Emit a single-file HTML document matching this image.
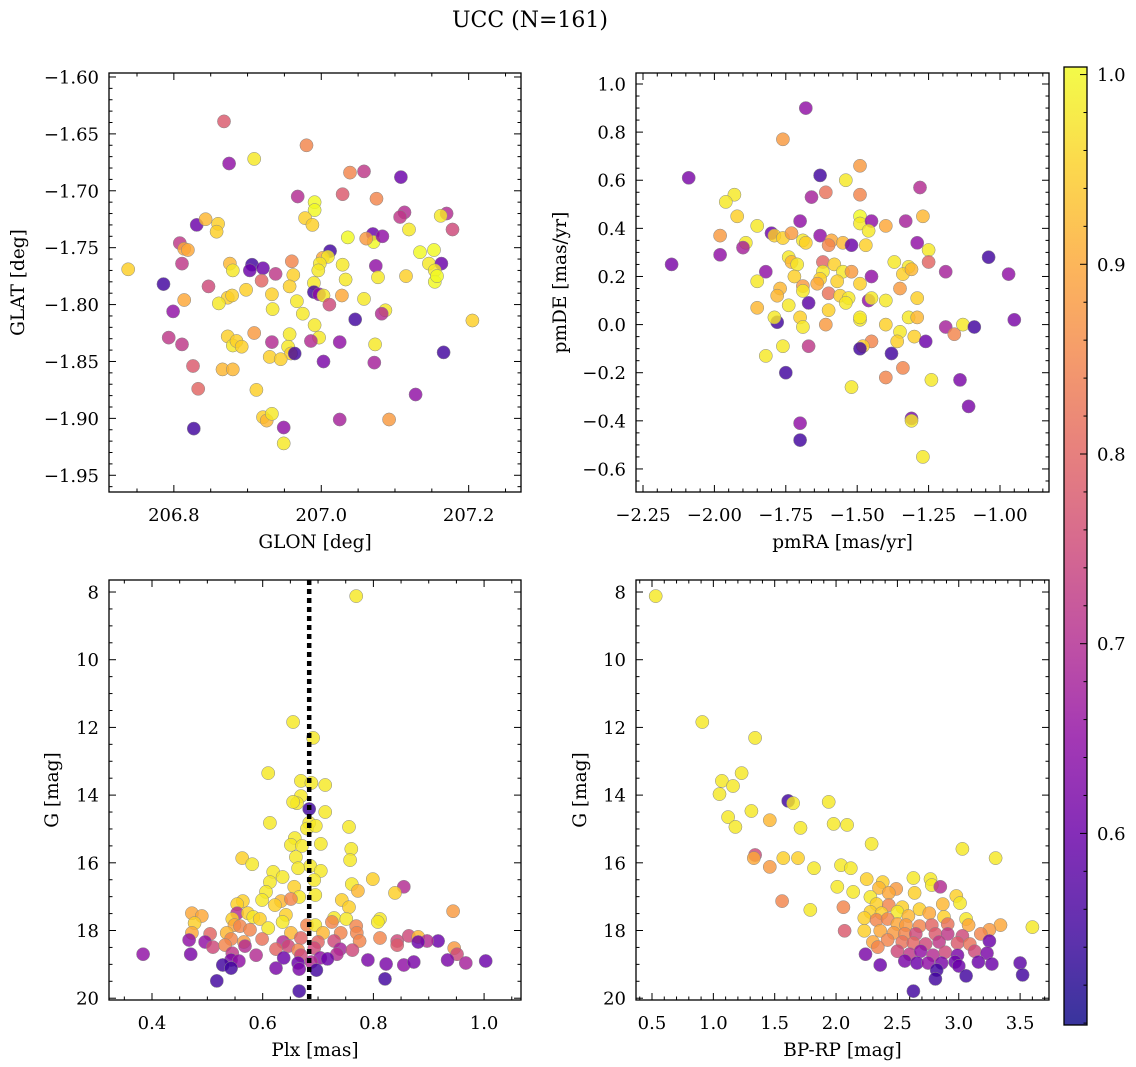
<!DOCTYPE html>
<html><head><meta charset="utf-8">
<style>
html,body{margin:0;padding:0;background:#fff;}
svg{display:block;font-family:"DejaVu Serif","Liberation Serif",serif;}
</style></head>
<body>
<svg id="fig" width="1136" height="1067" viewBox="0 0 1136 1067" xmlns="http://www.w3.org/2000/svg">
<text x="530" y="27" text-anchor="middle" font-size="22">UCC (N=161)</text>
</svg>
<script>
// ---- Panel 1: GLON vs GLAT ----
const glon = [206.868,206.980,206.875,206.909,207.039,207.058,207.108,206.968,206.991,206.991,207.029,207.075,207.113,207.107,207.170,207.162,207.178,206.978,206.988,206.831,206.843,206.860,206.858,207.070,207.119,207.071,207.083,207.036,207.061,206.808,206.811,206.814,206.819,207.012,207.002,207.009,206.906,206.903,206.921,206.876,206.880,206.998,206.996,206.960,207.029,207.074,207.134,207.153,207.146,207.163,207.115,207.154,207.154,207.157,206.738,206.786,206.938,206.962,206.919,207.033,207.077,206.990,206.957,206.814,206.847,206.873,206.879,206.898,206.861,206.933,206.934,206.990,206.997,207.003,207.011,207.028,207.058,207.087,207.082,206.967,206.975,206.799,207.046,206.991,206.873,206.909,206.957,206.997,206.793,206.811,206.880,206.885,206.892,206.933,206.955,206.959,206.986,207.025,207.073,206.930,206.945,206.964,207.003,207.072,207.166,206.826,206.866,206.880,206.833,206.912,207.128,206.921,206.926,206.933,207.025,207.092,206.949,206.949,206.827,207.205];
const glat = [-1.639,-1.660,-1.676,-1.672,-1.684,-1.683,-1.688,-1.705,-1.710,-1.717,-1.703,-1.707,-1.719,-1.723,-1.720,-1.722,-1.734,-1.724,-1.730,-1.730,-1.725,-1.729,-1.736,-1.738,-1.734,-1.745,-1.740,-1.741,-1.742,-1.746,-1.764,-1.751,-1.752,-1.753,-1.759,-1.758,-1.765,-1.770,-1.768,-1.764,-1.770,-1.764,-1.770,-1.762,-1.765,-1.766,-1.754,-1.752,-1.764,-1.764,-1.775,-1.770,-1.780,-1.775,-1.769,-1.782,-1.773,-1.774,-1.779,-1.778,-1.776,-1.781,-1.784,-1.796,-1.784,-1.794,-1.792,-1.787,-1.799,-1.791,-1.804,-1.789,-1.791,-1.792,-1.800,-1.792,-1.795,-1.805,-1.808,-1.797,-1.808,-1.806,-1.813,-1.818,-1.828,-1.825,-1.826,-1.829,-1.829,-1.835,-1.836,-1.832,-1.837,-1.833,-1.837,-1.843,-1.832,-1.833,-1.835,-1.846,-1.848,-1.843,-1.850,-1.851,-1.842,-1.854,-1.857,-1.857,-1.874,-1.875,-1.879,-1.899,-1.902,-1.896,-1.901,-1.901,-1.908,-1.922,-1.909,-1.814];
const prob1 = [0.78,0.85,0.65,0.98,0.85,0.72,0.6,0.7,1.0,1.0,0.78,0.85,0.7,0.72,0.7,0.98,0.75,0.95,0.95,0.6,0.92,0.95,0.95,0.6,0.98,1.0,0.65,1.0,0.88,0.72,0.72,0.9,0.9,0.55,0.9,0.98,0.55,0.6,0.6,0.92,0.98,0.98,0.98,0.85,0.98,0.65,1.0,1.0,0.98,0.6,0.95,0.98,1.0,1.0,0.95,0.55,0.72,0.95,0.8,0.98,0.98,0.98,0.95,0.9,0.75,0.95,0.95,0.95,0.98,0.95,0.98,0.55,0.65,0.98,0.75,0.9,0.98,0.98,0.7,0.98,0.98,0.65,0.55,0.98,0.95,0.88,0.98,0.98,0.72,0.72,0.98,0.95,0.95,0.7,0.98,0.95,0.7,0.65,0.98,0.95,0.95,0.55,0.62,0.68,0.55,0.78,0.92,0.92,0.8,0.95,0.65,0.95,0.92,0.98,0.68,0.88,0.65,0.98,0.55,0.95];

// ---- Panel 2: pmRA vs pmDE ----
const pmra = [-1.68,-1.76,-2.09,-1.63,-1.54,-1.49,-1.61,-1.66,-1.49,-1.28,-1.93,-1.96,-1.92,-1.49,-1.27,-1.70,-1.49,-1.45,-1.33,-1.40,-1.85,-1.80,-1.79,-1.76,-1.73,-1.63,-1.59,-1.55,-1.46,-1.98,-1.89,-1.90,-1.52,-1.69,-1.68,-1.60,-1.47,-1.29,-1.25,-1.32,-1.34,-1.31,-1.25,-1.37,-1.04,-1.19,-1.98,-2.15,-1.74,-1.73,-1.71,-1.62,-1.58,-1.62,-1.55,-1.52,-1.63,-1.57,-1.45,-1.49,-1.82,-1.72,-1.69,-1.77,-1.69,-1.64,-1.60,-1.56,-1.53,-1.85,-1.35,-0.97,-0.95,-1.46,-1.45,-1.29,-1.40,-1.78,-1.85,-1.74,-1.67,-1.60,-1.54,-1.70,-1.49,-1.61,-1.69,-1.78,-1.79,-1.49,-1.40,-1.32,-1.29,-1.13,-1.09,-1.19,-1.35,-1.16,-1.36,-1.30,-1.26,-1.45,-1.67,-1.48,-1.49,-1.76,-1.38,-1.82,-1.52,-1.75,-1.34,-1.40,-1.24,-1.14,-1.11,-1.31,-1.31,-1.70,-1.70,-1.27];
const pmde = [0.90,0.77,0.61,0.62,0.60,0.66,0.55,0.53,0.54,0.57,0.54,0.51,0.45,0.45,0.45,0.43,0.42,0.43,0.43,0.41,0.41,0.38,0.37,0.36,0.38,0.37,0.35,0.34,0.39,0.37,0.34,0.32,0.33,0.35,0.34,0.33,0.33,0.34,0.31,0.24,0.21,0.23,0.26,0.26,0.28,0.22,0.29,0.25,0.28,0.26,0.25,0.26,0.25,0.22,0.22,0.22,0.19,0.18,0.20,0.17,0.22,0.20,0.16,0.15,0.14,0.17,0.13,0.12,0.11,0.18,0.15,0.21,0.02,0.10,0.11,0.11,0.10,0.12,0.07,0.08,0.09,0.06,0.09,0.03,0.02,0.00,-0.01,0.01,0.03,0.03,0.00,0.03,0.03,0.00,-0.01,-0.01,-0.03,-0.04,-0.07,-0.05,-0.07,-0.07,-0.09,-0.09,-0.10,-0.09,-0.12,-0.13,-0.26,-0.20,-0.18,-0.22,-0.23,-0.23,-0.34,-0.39,-0.40,-0.41,-0.48,-0.55];
const prob2 = [0.65,0.88,0.62,0.55,0.98,0.88,0.82,0.68,0.85,0.7,0.98,0.98,0.95,1.0,0.92,0.65,0.98,0.65,0.68,0.9,0.98,0.6,0.95,0.95,0.88,0.65,0.9,0.92,0.98,0.88,0.98,0.68,0.6,0.98,0.95,0.85,0.95,0.65,0.98,0.98,0.95,0.92,0.8,0.98,0.55,0.68,0.65,0.62,0.98,0.92,0.98,0.8,0.95,0.98,0.98,0.88,0.95,0.95,0.65,0.95,0.65,0.95,0.88,0.92,0.98,0.9,0.82,0.95,0.98,0.98,0.88,0.65,0.62,0.65,0.98,0.95,0.98,0.92,0.92,0.98,0.58,0.95,0.98,0.95,0.98,0.88,0.98,0.55,0.98,0.98,0.95,0.98,0.92,0.98,0.55,0.68,0.98,0.85,0.95,0.95,0.6,0.85,0.72,0.95,0.55,0.98,0.55,0.98,0.98,0.55,0.85,0.85,0.98,0.62,0.62,0.62,0.98,0.65,0.55,0.98];

// ---- Panel 3: Plx vs G ----
const plx = [0.769,0.655,0.691,0.610,0.669,0.688,0.669,0.713,0.662,0.655,0.684,0.713,0.684,0.680,0.696,0.613,0.756,0.658,0.651,0.671,0.705,0.760,0.660,0.758,0.563,0.581,0.686,0.664,0.619,0.636,0.705,0.693,0.613,0.761,0.799,0.657,0.606,0.772,0.855,0.839,0.666,0.695,0.599,0.633,0.564,0.554,0.622,0.651,0.743,0.756,0.554,0.472,0.490,0.573,0.944,0.583,0.595,0.545,0.642,0.729,0.751,0.812,0.477,0.549,0.559,0.636,0.680,0.695,0.725,0.769,0.808,0.472,0.505,0.535,0.577,0.610,0.651,0.669,0.709,0.741,0.770,0.812,0.864,0.881,0.543,0.566,0.599,0.637,0.646,0.700,0.729,0.775,0.843,0.917,0.897,0.467,0.496,0.510,0.532,0.568,0.624,0.664,0.693,0.740,0.762,0.843,0.881,0.384,0.470,0.545,0.588,0.638,0.669,0.704,0.734,0.946,0.951,0.543,0.557,0.664,0.688,0.717,0.790,0.823,0.934,1.003,0.967,0.666,0.697,0.624,0.528,0.543,0.855,0.873,0.517,0.821,0.666];
const gmag3 = [8.12,11.84,12.31,13.35,13.58,13.64,14.03,13.70,14.24,14.20,14.41,14.50,14.82,14.99,14.91,14.82,14.94,15.27,15.47,15.50,15.44,15.59,15.83,15.92,15.86,16.04,16.09,16.16,16.27,16.42,16.24,16.51,16.57,16.63,16.48,16.71,16.86,16.83,16.71,16.89,17.01,16.95,17.10,17.13,17.13,17.22,17.25,17.07,17.10,17.31,17.49,17.49,17.57,17.49,17.43,17.60,17.66,17.66,17.54,17.63,17.66,17.66,17.78,17.84,17.87,17.75,17.84,17.84,17.75,17.87,17.75,18.07,18.10,18.07,17.98,17.93,18.07,18.22,18.07,18.07,18.07,18.22,18.16,18.19,18.25,18.34,18.25,18.34,18.46,18.34,18.31,18.31,18.31,18.31,18.31,18.28,18.34,18.49,18.43,18.46,18.55,18.58,18.52,18.55,18.58,18.43,18.34,18.70,18.70,18.67,18.73,18.81,18.73,18.81,18.70,18.52,18.70,18.87,18.90,18.96,18.93,18.84,18.87,18.99,18.87,18.90,18.96,19.14,19.17,19.11,19.02,19.11,19.02,18.93,19.49,19.43,19.79];
const prob3 = [0.98,0.98,0.98,0.98,0.98,0.98,0.98,0.98,0.98,0.98,0.55,0.98,0.98,0.98,0.98,0.98,0.98,0.98,0.98,0.98,0.98,0.98,0.98,0.98,0.95,0.98,0.98,0.98,0.98,0.98,0.98,0.98,0.98,0.98,0.95,0.95,0.98,0.92,0.7,0.95,0.98,0.98,0.98,0.92,0.95,0.95,0.95,0.85,0.95,0.95,0.7,0.9,0.9,0.95,0.88,0.98,0.95,0.95,0.95,0.98,0.98,0.98,0.95,0.9,0.85,0.98,0.85,0.98,0.85,0.85,0.98,0.9,0.8,0.92,0.85,0.98,0.92,0.8,0.92,0.85,0.85,0.85,0.75,0.92,0.85,0.88,0.82,0.7,0.75,0.8,0.75,0.85,0.75,0.6,0.7,0.65,0.65,0.75,0.85,0.7,0.8,0.85,0.75,0.68,0.75,0.78,0.6,0.65,0.62,0.72,0.7,0.6,0.75,0.65,0.7,0.88,0.75,0.62,0.65,0.6,0.7,0.6,0.62,0.62,0.62,0.6,0.68,0.62,0.55,0.62,0.55,0.55,0.65,0.62,0.55,0.55,0.55];
const plxRef = [0.684];

// ---- Panel 4: BP-RP vs G ----
const bprp = [0.53,0.91,1.34,1.23,1.07,1.16,1.61,1.94,1.65,1.05,1.12,1.18,1.46,1.31,1.34,1.33,1.71,1.98,2.09,2.29,3.03,3.30,1.69,1.57,2.04,1.46,1.82,2.12,2.25,2.63,2.77,2.38,2.78,2.01,2.35,2.49,2.85,2.14,2.43,2.64,2.98,3.01,2.28,1.79,2.06,1.56,2.33,2.43,2.54,2.87,2.68,2.28,2.37,2.50,2.59,2.76,2.88,2.23,2.33,2.42,3.06,3.34,3.60,2.50,2.57,2.68,2.78,2.91,3.08,3.25,2.07,2.23,2.36,2.47,2.56,2.65,2.81,2.91,3.03,3.18,2.30,2.42,2.54,2.63,2.73,2.84,2.99,3.09,3.25,2.34,2.50,2.60,2.69,2.79,2.89,2.99,3.13,2.24,3.23,3.50,2.56,2.66,2.75,2.86,2.97,3.16,3.27,2.36,2.82,3.00,3.52,2.81,3.06,2.63];
const gmag4 = [8.12,11.84,12.31,13.35,13.58,13.73,14.17,14.20,14.24,13.97,14.65,14.94,14.74,14.47,15.77,15.86,14.97,14.85,14.88,15.44,15.59,15.86,15.86,15.86,16.07,16.12,16.16,16.16,16.48,16.45,16.48,16.57,16.66,16.71,16.74,16.77,16.71,16.86,16.89,16.89,16.98,17.19,17.01,17.39,17.31,17.13,17.22,17.25,17.31,17.22,17.37,17.45,17.49,17.45,17.57,17.49,17.60,17.63,17.69,17.66,17.66,17.84,17.90,17.81,17.84,17.87,17.84,17.81,17.84,17.98,18.01,18.01,18.01,18.07,18.10,18.10,18.10,18.10,18.16,18.10,18.34,18.28,18.34,18.37,18.40,18.34,18.37,18.40,18.31,18.49,18.61,18.70,18.61,18.73,18.64,18.73,18.61,18.70,18.67,18.96,18.90,18.96,18.96,18.96,18.93,18.93,18.99,19.02,19.17,19.05,19.31,19.43,19.34,19.79];
const prob4 = [0.98,0.98,0.98,0.98,0.98,0.98,0.55,0.98,0.98,0.98,0.98,0.98,0.92,0.98,0.75,0.9,0.98,0.98,0.98,0.98,0.98,0.98,0.95,0.95,0.98,0.88,0.98,0.98,0.95,0.98,0.98,0.95,0.98,0.98,0.92,0.88,0.7,0.98,0.9,0.95,0.95,0.98,0.98,0.98,0.85,0.85,0.95,0.85,0.95,0.92,0.95,0.95,0.95,0.98,0.92,0.9,0.95,0.95,0.85,0.85,0.98,0.9,0.98,0.9,0.88,0.85,0.8,0.82,0.9,0.88,0.78,0.95,0.9,0.88,0.85,0.75,0.78,0.72,0.75,0.85,0.9,0.85,0.82,0.8,0.75,0.72,0.78,0.82,0.6,0.85,0.75,0.72,0.65,0.7,0.75,0.62,0.75,0.62,0.62,0.58,0.62,0.6,0.65,0.62,0.6,0.6,0.6,0.6,0.55,0.6,0.55,0.55,0.55,0.55];

// ---- tick label arrays ----
const p1xTicks = [206.8, 207.0, 207.2];
const p1yTicks = [-1.60,-1.65,-1.70,-1.75,-1.80,-1.85,-1.90,-1.95];
const p2xTicks = [-2.25,-2.00,-1.75,-1.50,-1.25,-1.00];
const p2yTicks = [1.0,0.8,0.6,0.4,0.2,0.0,-0.2,-0.4,-0.6];
const p3xTicks = [0.4,0.6,0.8,1.0];
const gTicks = [8,10,12,14,16,18,20];
const p4xTicks = [0.5,1.0,1.5,2.0,2.5,3.0,3.5];
const cbTicks = [0.6,0.7,0.8,0.9,1.0];

const NS = "http://www.w3.org/2000/svg";
const svg = document.getElementById('fig');
function mk(tag, attrs, parent){ const e=document.createElementNS(NS,tag); for(const k in attrs) e.setAttribute(k,attrs[k]); (parent||svg).appendChild(e); return e; }

const plasma = [[13,8,135],[65,4,157],[106,0,168],[143,13,164],[177,42,144],[204,71,120],[225,100,98],[242,132,75],[252,166,54],[252,206,37],[240,249,33]];
const VMIN=0.5, VMAX=1.0;
function cmap(v){ let t=(v-VMIN)/(VMAX-VMIN); t=Math.max(0,Math.min(1,t)); const f=t*10; const i=Math.min(9,Math.floor(f)); const u=f-i; const a=plasma[i], b=plasma[i+1]; return `rgb(${Math.round(a[0]+(b[0]-a[0])*u)},${Math.round(a[1]+(b[1]-a[1])*u)},${Math.round(a[2]+(b[2]-a[2])*u)})`; }

function fmt(v,d){ return (v<0?'\u2212':'')+Math.abs(v).toFixed(d); }
const TFS = 18, LFS = 18.5;

function panel(cfg){
  const {name,L,T,R,B,xmin,xmax,ymin,ymax,inv,xt,yt,xminor,yminor,xd,yd,xlab,ylab,xs,ys,cs,ylabX} = cfg;
  const sx = v => L + (v-xmin)/(xmax-xmin)*(R-L);
  const sy = inv ? (v => T + (v-ymin)/(ymax-ymin)*(B-T)) : (v => B - (v-ymin)/(ymax-ymin)*(B-T));
  const g = mk('g',{});
  
  
  const clipId = name+'-clip';
  const cp = mk('clipPath',{id:clipId},g); mk('rect',{x:L,y:T,width:R-L,height:B-T},cp);
  const pts = mk('g',{'clip-path':`url(#${clipId})`},g);
  
  
  for(let i=0;i<xs.length;i++){
    const c = mk('circle',{cx:sx(xs[i]).toFixed(1),cy:sy(ys[i]).toFixed(1),r:6.6,fill:cmap(cs[i]),'fill-opacity':0.82,stroke:'#888','stroke-width':0.5},pts);
    
    
  }
  if(cfg.vline){ for(const v of cfg.vline){ const l=mk('line',{x1:sx(v),x2:sx(v),y1:T,y2:B,stroke:'#000','stroke-width':4.5,'stroke-dasharray':'5 4'},g);
    
     } }
  mk('rect',{x:L,y:T,width:R-L,height:B-T,fill:'none',stroke:'#000','stroke-width':1.3},g);
  const xr=[Math.min(xmin,xmax),Math.max(xmin,xmax)];
  for(let v=Math.ceil(xr[0]/xminor-1e-6)*xminor; v<=xr[1]+1e-9; v+=xminor){
    const x=sx(v); const major = xt.some(t=>Math.abs(t-v)<xminor/10);
    const len = major?7:3.5;
    mk('line',{x1:x,x2:x,y1:B,y2:B-len,stroke:'#000','stroke-width':1},g);
    mk('line',{x1:x,x2:x,y1:T,y2:T+len,stroke:'#000','stroke-width':1},g);
  }
  for(const v of xt){ const t=mk('text',{x:sx(v),y:B+29,'text-anchor':'middle','font-size':TFS},g); t.textContent=fmt(v,xd);
    
     }
  const yr=[Math.min(ymin,ymax),Math.max(ymin,ymax)];
  for(let v=Math.ceil(yr[0]/yminor-1e-6)*yminor; v<=yr[1]+1e-9; v+=yminor){
    const y=sy(v); const major = yt.some(t=>Math.abs(t-v)<yminor/10);
    const len = major?7:3.5;
    mk('line',{x1:L,x2:L+len,y1:y,y2:y,stroke:'#000','stroke-width':1},g);
    mk('line',{x1:R,x2:R-len,y1:y,y2:y,stroke:'#000','stroke-width':1},g);
  }
  for(const v of yt){ const t=mk('text',{x:L-10,y:sy(v)+6.5,'text-anchor':'end','font-size':TFS},g); t.textContent=fmt(v,yd);
    
     }
  const xl=mk('text',{x:(L+R)/2,y:B+56,'text-anchor':'middle','font-size':LFS},g); xl.textContent=xlab;
  
  
  const yl=mk('text',{x:ylabX,y:(T+B)/2,'text-anchor':'middle','font-size':LFS,transform:`rotate(-90 ${ylabX} ${(T+B)/2})`},g); yl.textContent=ylab;
  
  
}

panel({name:'glon-glat-panel',L:109,T:73,R:521,B:492,xmin:206.712,xmax:207.271,ymin:-1.9647,ymax:-1.5965,inv:false,xt:p1xTicks,yt:p1yTicks,xminor:0.05,yminor:0.01,xd:1,yd:2,xlab:'GLON [deg]',ylab:'GLAT [deg]',xs:glon,ys:glat,cs:prob1,ylabX:24});
panel({name:'pm-panel',L:636,T:73,R:1049,B:492,xmin:-2.2745,xmax:-0.8284,ymin:-0.6958,ymax:1.0457,inv:false,xt:p2xTicks,yt:p2yTicks,xminor:0.05,yminor:0.05,xd:2,yd:1,xlab:'pmRA [mas/yr]',ylab:'pmDE [mas/yr]',xs:pmra,ys:pmde,cs:prob2,ylabX:566});
panel({name:'plx-g-panel',L:109,T:580,R:521,B:1000,xmin:0.3223,xmax:1.0667,ymin:7.645,ymax:20.053,inv:true,xt:p3xTicks,yt:gTicks,xminor:0.05,yminor:0.5,xd:1,yd:0,xlab:'Plx [mas]',ylab:'G [mag]',xs:plx,ys:gmag3,cs:prob3,ylabX:58,vline:plxRef});
panel({name:'cmd-panel',L:636,T:580,R:1049,B:1000,xmin:0.3696,xmax:3.7355,ymin:7.645,ymax:20.053,inv:true,xt:p4xTicks,yt:gTicks,xminor:0.1,yminor:0.5,xd:1,yd:0,xlab:'BP-RP [mag]',ylab:'G [mag]',xs:bprp,ys:gmag4,cs:prob4,ylabX:586});

// colorbar
(function(){
  const L=1064,R=1087,T=67,B=1025, cmin=0.499, cmax=1.004;
  const g=mk('g',{});
  
  
  const defs=mk('defs',{},g);
  const lg=mk('linearGradient',{id:'cbgrad',x1:0,y1:1,x2:0,y2:0},defs);
  for(let i=0;i<=20;i++){ const v=cmin+(cmax-cmin)*i/20; mk('stop',{offset:(i/20),'stop-color':cmap(v),'stop-opacity':0.82},lg); }
  mk('rect',{x:L,y:T,width:R-L,height:B-T,fill:'url(#cbgrad)',stroke:'#000','stroke-width':1.3},g);
  const sy=v=>B-(v-cmin)/(cmax-cmin)*(B-T);
  for(let v=0.5; v<=1.0001; v+=0.02){ const y=sy(v); const major=cbTicks.some(t=>Math.abs(t-v)<0.005);
    mk('line',{x1:R,x2:R-(major?7:3.5),y1:y,y2:y,stroke:'#000','stroke-width':1},g); }
  for(const v of cbTicks){ const t=mk('text',{x:R+10,y:sy(v)+6.5,'font-size':TFS},g); t.textContent=v.toFixed(1);
    
     }
})();
</script>
</body></html>
